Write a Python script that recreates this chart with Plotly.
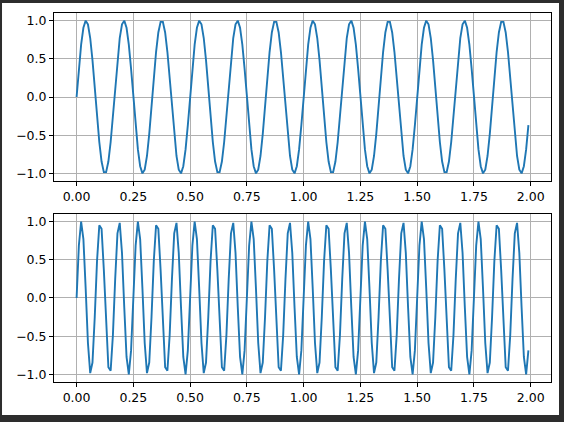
import plotly.graph_objects as go
from plotly.subplots import make_subplots

# sample times, 0.00 .. 1.99 s
t = [i / 100 for i in range(200)]

# top signal (6 Hz sine)
wave_top = [
    0.0, 0.368, 0.685, 0.905, 0.998, 0.951, 0.771, 0.482, 0.125, -0.249,
    -0.588, -0.844, -0.982, -0.982, -0.844, -0.588, -0.249, 0.125, 0.482, 0.771,
    0.951, 0.998, 0.905, 0.685, 0.368, 0.0, -0.368, -0.685, -0.905, -0.998,
    -0.951, -0.771, -0.482, -0.125, 0.249, 0.588, 0.844, 0.982, 0.982, 0.844,
    0.588, 0.249, -0.125, -0.482, -0.771, -0.951, -0.998, -0.905, -0.685, -0.368,
    0.0, 0.368, 0.685, 0.905, 0.998, 0.951, 0.771, 0.482, 0.125, -0.249,
    -0.588, -0.844, -0.982, -0.982, -0.844, -0.588, -0.249, 0.125, 0.482, 0.771,
    0.951, 0.998, 0.905, 0.685, 0.368, 0.0, -0.368, -0.685, -0.905, -0.998,
    -0.951, -0.771, -0.482, -0.125, 0.249, 0.588, 0.844, 0.982, 0.982, 0.844,
    0.588, 0.249, -0.125, -0.482, -0.771, -0.951, -0.998, -0.905, -0.685, -0.368,
    0.0, 0.368, 0.685, 0.905, 0.998, 0.951, 0.771, 0.482, 0.125, -0.249,
    -0.588, -0.844, -0.982, -0.982, -0.844, -0.588, -0.249, 0.125, 0.482, 0.771,
    0.951, 0.998, 0.905, 0.685, 0.368, 0.0, -0.368, -0.685, -0.905, -0.998,
    -0.951, -0.771, -0.482, -0.125, 0.249, 0.588, 0.844, 0.982, 0.982, 0.844,
    0.588, 0.249, -0.125, -0.482, -0.771, -0.951, -0.998, -0.905, -0.685, -0.368,
    0.0, 0.368, 0.685, 0.905, 0.998, 0.951, 0.771, 0.482, 0.125, -0.249,
    -0.588, -0.844, -0.982, -0.982, -0.844, -0.588, -0.249, 0.125, 0.482, 0.771,
    0.951, 0.998, 0.905, 0.685, 0.368, 0.0, -0.368, -0.685, -0.905, -0.998,
    -0.951, -0.771, -0.482, -0.125, 0.249, 0.588, 0.844, 0.982, 0.982, 0.844,
    0.588, 0.249, -0.125, -0.482, -0.771, -0.951, -0.998, -0.905, -0.685, -0.368,
]

# bottom signal (12 Hz sine)
wave_bottom = [
    0.0, 0.685, 0.998, 0.771, 0.125, -0.588, -0.982, -0.844, -0.249, 0.482,
    0.951, 0.905, 0.368, -0.368, -0.905, -0.951, -0.482, 0.249, 0.844, 0.982,
    0.588, -0.125, -0.771, -0.998, -0.685,
    0.0, 0.685, 0.998, 0.771, 0.125, -0.588, -0.982, -0.844, -0.249, 0.482,
    0.951, 0.905, 0.368, -0.368, -0.905, -0.951, -0.482, 0.249, 0.844, 0.982,
    0.588, -0.125, -0.771, -0.998, -0.685,
    0.0, 0.685, 0.998, 0.771, 0.125, -0.588, -0.982, -0.844, -0.249, 0.482,
    0.951, 0.905, 0.368, -0.368, -0.905, -0.951, -0.482, 0.249, 0.844, 0.982,
    0.588, -0.125, -0.771, -0.998, -0.685,
    0.0, 0.685, 0.998, 0.771, 0.125, -0.588, -0.982, -0.844, -0.249, 0.482,
    0.951, 0.905, 0.368, -0.368, -0.905, -0.951, -0.482, 0.249, 0.844, 0.982,
    0.588, -0.125, -0.771, -0.998, -0.685,
    0.0, 0.685, 0.998, 0.771, 0.125, -0.588, -0.982, -0.844, -0.249, 0.482,
    0.951, 0.905, 0.368, -0.368, -0.905, -0.951, -0.482, 0.249, 0.844, 0.982,
    0.588, -0.125, -0.771, -0.998, -0.685,
    0.0, 0.685, 0.998, 0.771, 0.125, -0.588, -0.982, -0.844, -0.249, 0.482,
    0.951, 0.905, 0.368, -0.368, -0.905, -0.951, -0.482, 0.249, 0.844, 0.982,
    0.588, -0.125, -0.771, -0.998, -0.685,
    0.0, 0.685, 0.998, 0.771, 0.125, -0.588, -0.982, -0.844, -0.249, 0.482,
    0.951, 0.905, 0.368, -0.368, -0.905, -0.951, -0.482, 0.249, 0.844, 0.982,
    0.588, -0.125, -0.771, -0.998, -0.685,
    0.0, 0.685, 0.998, 0.771, 0.125, -0.588, -0.982, -0.844, -0.249, 0.482,
    0.951, 0.905, 0.368, -0.368, -0.905, -0.951, -0.482, 0.249, 0.844, 0.982,
    0.588, -0.125, -0.771, -0.998, -0.685,
]

x_ticks = [0.0, 0.25, 0.5, 0.75, 1.0, 1.25, 1.5, 1.75, 2.0]
y_ticks = [-1.0, -0.5, 0.0, 0.5, 1.0]

fig = make_subplots(rows=2, cols=1, vertical_spacing=0.09)
fig.add_trace(go.Scatter(x=t, y=wave_top, mode="lines", line=dict(color="#1f77b4", width=1.9)), row=1, col=1)
fig.add_trace(go.Scatter(x=t, y=wave_bottom, mode="lines", line=dict(color="#1f77b4", width=1.9)), row=2, col=1)

axis_style = dict(showline=True, mirror=True, linecolor="black", linewidth=1,
                  ticks="outside", ticklen=4, tickwidth=1, tickcolor="black",
                  showgrid=True, gridcolor="#b0b0b0", gridwidth=1, zeroline=False)
fig.update_xaxes(range=[-0.0995, 2.0895], tickvals=x_ticks, tickformat=".2f", **axis_style)
fig.update_yaxes(range=[-1.098, 1.098], tickvals=y_ticks, tickformat=".1f", **axis_style)
fig.update_layout(yaxis=dict(domain=[0.5447, 1.0]), yaxis2=dict(domain=[0.0, 0.4553]))

# white figure area inside the dark window frame
fig.add_shape(type="rect", xref="paper", yref="paper", x0=-0.1046, x1=1.0161, y0=-0.0894, y1=1.0271,
              fillcolor="white", line=dict(width=0), layer="below")

fig.update_layout(width=564, height=422, showlegend=False,
                  margin=dict(l=54, r=13, t=13, b=40),
                  paper_bgcolor="#2d2d2d", plot_bgcolor="white",
                  font=dict(family="DejaVu Sans", size=12.5, color="black"))
fig.write_html("out.html", config={"displayModeBar": False},
               post_script="document.body.style.margin='0';document.body.style.background='#2d2d2d';")
